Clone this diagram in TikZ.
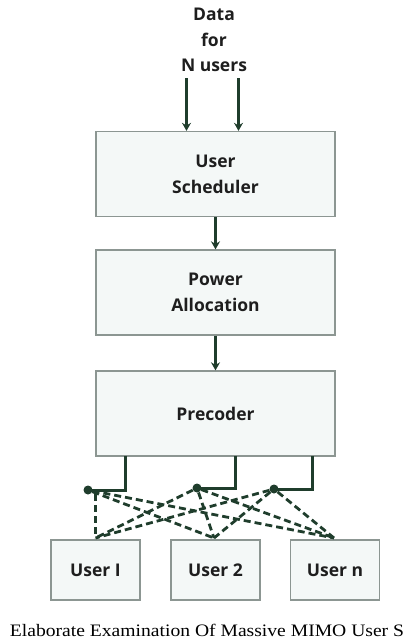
\documentclass[tikz,border=0pt]{standalone}
\usepackage{fontspec}
\setmainfont{Open Sans}
\newfontfamily\capfont{Liberation Serif}
\usetikzlibrary{arrows.meta}
\definecolor{dg}{HTML}{1F3D2C}
\definecolor{boxfill}{HTML}{F4F8F7}
\definecolor{boxline}{HTML}{8C9692}
\definecolor{txt}{HTML}{1E1E1E}
\begin{document}
\begin{tikzpicture}[x=1pt,y=-1pt,
  blk/.style={draw=boxline, fill=boxfill, line width=1.3pt, minimum width=239pt, minimum height=85pt, inner sep=0pt, font=\fontsize{17.5}{26}\selectfont\bfseries, text=txt, align=center},
  ubox/.style={draw=boxline, fill=boxfill, line width=1.3pt, minimum width=89pt, minimum height=60pt, inner sep=0pt, font=\fontsize{17.5}{18}\selectfont\bfseries, text=txt},
  flow/.style={draw=dg, line width=2.8pt, -{Stealth[length=8pt,width=9pt]}},
  wire/.style={draw=dg, line width=3pt},
  dsh/.style={draw=dg, line width=2.8pt, dash pattern=on 7pt off 4pt},
  dot/.style={circle, fill=dg, inner sep=0pt, minimum size=9pt}]
\useasboundingbox (0,0) rectangle (414,642);
% input text
\node[font=\fontsize{17.5}{25.5}\selectfont\bfseries, text=txt, align=center] (in) at (214,40) {Data\\for\\N users};
% blocks
\node[blk] (us) at (215.5,174) {User\\Scheduler};
\node[blk] (pa) at (215.5,292.5) {Power\\Allocation};
\node[blk] (pc) at (215.5,413.5) {Precoder};
% inputs
\coordinate (i1) at (186.5,78);
\coordinate (i2) at (238.5,78);
\draw[flow] (i1) -- (i1 |- us.north);
\draw[flow] (i2) -- (i2 |- us.north);
\draw[flow] (us.south) -- (pa.north);
\draw[flow] (pa.south) -- (pc.north);
% dots
\node[dot] (d1) at (88,490) {};
\node[dot] (d2) at (197,488) {};
\node[dot] (d3) at (274,489) {};
\coordinate (o1) at (125.5,456);
\coordinate (o2) at (235.5,456);
\coordinate (o3) at (312.5,456);
\draw[wire] (o1) |- (d1.center);
\draw[wire] (o2) |- (d2.center);
\draw[wire] (o3) |- (d3.center);
% users
\node[ubox] (u1) at (95.5,570) {User I};
\node[ubox] (u2) at (215.5,570) {User 2};
\node[ubox] (un) at (335,570) {User n};
\coordinate (t1) at (95.5,538);
\coordinate (t2) at (214,538);
\coordinate (t3) at (334,538);
\coordinate (v1) at (95.5,494);
\draw[dsh] (v1) -- (t1);
\draw[dsh] (d1) -- (t2);
\draw[dsh] (d1) -- (t3);
\draw[dsh] (d2) -- (t1);
\draw[dsh] (d2) -- (t2);
\draw[dsh] (d2) -- (t3);
\draw[dsh] (d3) -- (t1);
\draw[dsh] (d3) -- (t2);
\draw[dsh] (d3) -- (t3);
% caption
\node[font=\capfont\fontsize{17.5}{18}\selectfont, anchor=base, inner sep=0pt, xscale=1.12] (cap) at (207,636) {Elaborate Examination Of Massive MIMO User S};
\end{tikzpicture}
\end{document}
